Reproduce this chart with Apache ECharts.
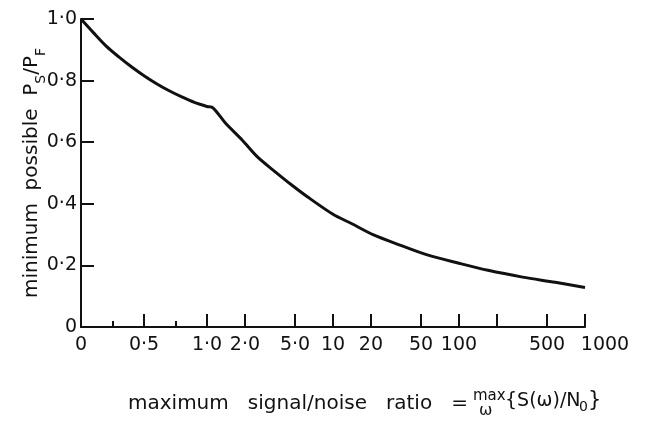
<!DOCTYPE html>
<html>
<head>
<meta charset="utf-8">
<script src="https://cdn.jsdelivr.net/npm/echarts@6/dist/echarts.min.js"></script>
<style>
  html, body { margin: 0; padding: 0; background: #fff; }
  #chart { width: 647px; height: 422px; }
</style>
</head>
<body>
<div id="chart"></div>
<script>
// curve: signal/noise ratio against minimum P_S/P_F
const ratioValues = [0, 0.1, 0.2, 0.3, 0.4, 0.5, 0.6, 0.7, 0.8, 0.9, 1.0, 1.12,
  1.4, 1.9, 2.5, 3.5, 4.7, 6.3, 10, 14, 21, 34, 56, 100, 170, 320, 580, 1000];
const minPower = [1.0, 0.955, 0.912, 0.877, 0.845, 0.816, 0.790, 0.767, 0.747, 0.729, 0.716, 0.711,
  0.662, 0.607, 0.553, 0.503, 0.461, 0.422, 0.366, 0.336, 0.299, 0.266, 0.234, 0.207, 0.184, 0.162, 0.145, 0.128];

const xTickValues = [0.5, 1, 2, 5, 10, 20, 50, 100, 200, 500, 1000];
const xLabelValues = [0, 0.5, 1, 2, 5, 10, 20, 50, 100, 500, 1000];
const xLabelTexts = ['0', '0·5', '1·0', '2·0', '5·0', '10', '20', '50', '100', '500', '1000'];
const xMinorTicks = [0.25, 0.75];

const FONT = 'DejaVu Sans';
const INK = '#111';

// axis is linear from 0 to 1, then logarithmic from 1 to 1000
function toAxis(v) {
  return v <= 1 ? v : 1 + Math.log10(v);
}

let chart = echarts.init(document.getElementById('chart'));

let curve = [];
for (let i = 0; i < ratioValues.length; i++) {
  curve.push([toAxis(ratioValues[i]), minPower[i]]);
}

function titleWord(text, left, top, size) {
  return { type: 'text', left: left, top: top, style: { text: text, font: size + 'px ' + FONT, fill: INK } };
}

let option = {
  backgroundColor: '#fff',
  animation: false,
  grid: {
    left: 81,
    right: 62,
    top: 19,
    bottom: 95,
    containLabel: false,
    outerBoundsMode: 'none'
  },
  xAxis: [
    {
      type: 'value',
      min: 0,
      max: 4,
      splitLine: { show: false },
      axisLine: { lineStyle: { color: INK, width: 2 } },
      axisTick: {
        inside: true,
        length: 13,
        lineStyle: { color: INK, width: 2 },
        customValues: xTickValues.map(toAxis)
      },
      axisLabel: {
        color: INK,
        fontFamily: FONT,
        fontSize: 19,
        margin: 9,
        customValues: xLabelValues.map(toAxis),
        formatter: function (value) {
          for (let i = 0; i < xLabelValues.length; i++) {
            if (Math.abs(toAxis(xLabelValues[i]) - value) < 1e-6) {
              return xLabelValues[i] === 1000 ? '{far|' + xLabelTexts[i] + '}' : xLabelTexts[i];
            }
          }
          return '';
        },
        rich: {
          far: { fontFamily: FONT, fontSize: 19, color: INK, padding: [0, 0, 0, 40] }
        }
      }
    },
    {
      type: 'value',
      min: 0,
      max: 4,
      position: 'bottom',
      splitLine: { show: false },
      axisLine: { show: false },
      axisLabel: { show: false },
      axisTick: {
        inside: true,
        length: 6,
        lineStyle: { color: INK, width: 2 },
        customValues: xMinorTicks
      }
    }
  ],
  yAxis: {
    type: 'value',
    min: 0,
    max: 1,
    interval: 0.2,
    splitLine: { show: false },
    axisLine: { lineStyle: { color: INK, width: 2 } },
    axisTick: { inside: true, length: 13, lineStyle: { color: INK, width: 2 } },
    axisLabel: {
      color: INK,
      fontFamily: FONT,
      fontSize: 19,
      margin: 4,
      formatter: function (value) {
        return value === 0 ? '0' : value.toFixed(1).replace('.', '·');
      }
    },
    name: '{t|minimum  possible  P}{s|S}{t|/P}{s|F}',
    nameLocation: 'middle',
    nameGap: 33,
    nameMoveOverlap: false,
    nameTextStyle: {
      rich: {
        t: { fontFamily: FONT, fontSize: 20, color: INK, lineHeight: 26, verticalAlign: 'top' },
        s: { fontFamily: FONT, fontSize: 14, color: INK, lineHeight: 16, verticalAlign: 'bottom' }
      }
    }
  },
  graphic: [
    titleWord('maximum   signal/noise   ratio   =', 128, 394, 20),
    titleWord('max', 473, 389, 15),
    titleWord('ω', 479, 403, 16),
    titleWord('{S(ω)/N', 505, 392, 19),
    titleWord('0', 579, 400, 14),
    titleWord('}', 588, 390, 21)
  ],
  series: [
    {
      type: 'line',
      xAxisIndex: 0,
      data: curve,
      symbol: 'none',
      smooth: 0.3,
      lineStyle: { color: INK, width: 3 }
    }
  ]
};
chart.setOption(option);
</script>
</body>
</html>
